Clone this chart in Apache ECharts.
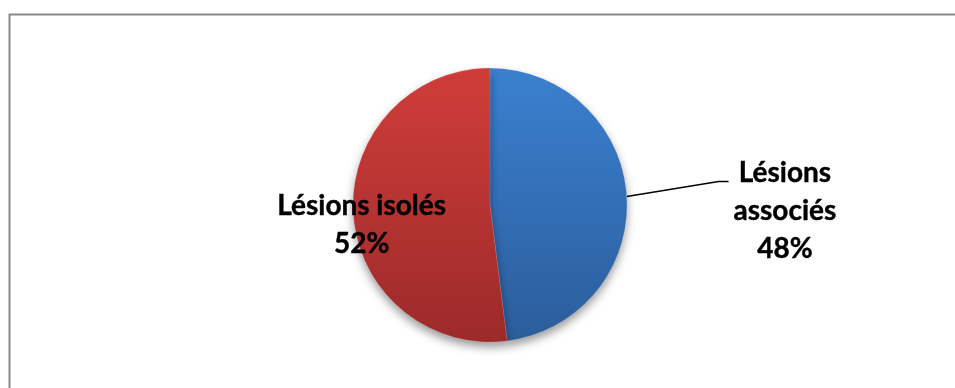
<!DOCTYPE html>
<html>
<head>
<meta charset="utf-8">
<script src="https://cdn.jsdelivr.net/npm/echarts@6/dist/echarts.min.js"></script>
<style>
  html, body { margin: 0; padding: 0; background: #ffffff; }
  #chart { width: 955px; height: 388px; }
</style>
</head>
<body>
<div id="chart"></div>
<script>
// Répartition des lésions
const categories = ['Lésions associés', 'Lésions isolés'];
const values = [48, 52];
const labelLines = [['Lésions', 'associés'], ['Lésions isolés']];

const topColors = ['#3b80d0', '#d03d3a'];
const bottomColors = ['#2b5d9b', '#9c2a2a'];

const chart = echarts.init(document.getElementById('chart'), null, { renderer: 'canvas' });

const data = categories.map((name, i) => ({
  name,
  value: values[i],
  itemStyle: {
    color: new echarts.graphic.LinearGradient(0, 0, 0, 1, [
      { offset: 0, color: topColors[i] },
      { offset: 1, color: bottomColors[i] }
    ])
  },
  label: i === 0
    ? { position: 'outside' }
    : { position: 'inside' },
  labelLine: { show: i === 0 }
}));

const textStyle = {
  color: '#000000',
  fontFamily: 'Lato',
  fontWeight: 'bold',
  fontSize: 28,
  lineHeight: 38,
  textBorderColor: '#000000',
  textBorderWidth: 0.4
};

chart.setOption({
  animation: false,
  graphic: [{
    type: 'rect',
    shape: { x: 9.5, y: 14.5, width: 1200, height: 600 },
    style: { fill: 'none', stroke: '#8a8a8a', lineWidth: 2 },
    silent: true
  }],
  series: [{
    type: 'pie',
    center: [490, 205],
    radius: 137,
    startAngle: 90,
    clockwise: true,
    data,
    itemStyle: {
      borderColor: 'rgba(255,255,255,0.25)',
      borderWidth: 0.5,
      shadowColor: 'rgba(0,0,0,0.4)',
      shadowBlur: 10,
      shadowOffsetY: 5
    },
    label: Object.assign({
      show: true,
      formatter: p => {
        const lines = labelLines[p.dataIndex].concat([p.percent.toFixed(0) + '%']);
        return lines.map(t => '{c|' + t + '}').join('\n');
      },
      rich: { c: Object.assign({ align: 'center' }, textStyle) }
    }, textStyle),
    labelLine: {
      length: 92,
      length2: 10,
      lineStyle: { color: '#000000', width: 1.5 }
    },
    // outer label hangs below its leader; inner label sits toward the left edge
    labelLayout: p => {
      if (p.dataIndex === 1) {
        return { dx: -57, dy: 15 };
      }
      const pts = p.labelLinePoints;
      if (!pts) return { dy: 29 };
      return {
        dy: 20,
        labelLinePoints: [
          pts[0],
          [pts[1][0], pts[1][1] - 9],
          [pts[2][0], pts[2][1] - 9]
        ]
      };
    }
  }]
});
</script>
</body>
</html>
